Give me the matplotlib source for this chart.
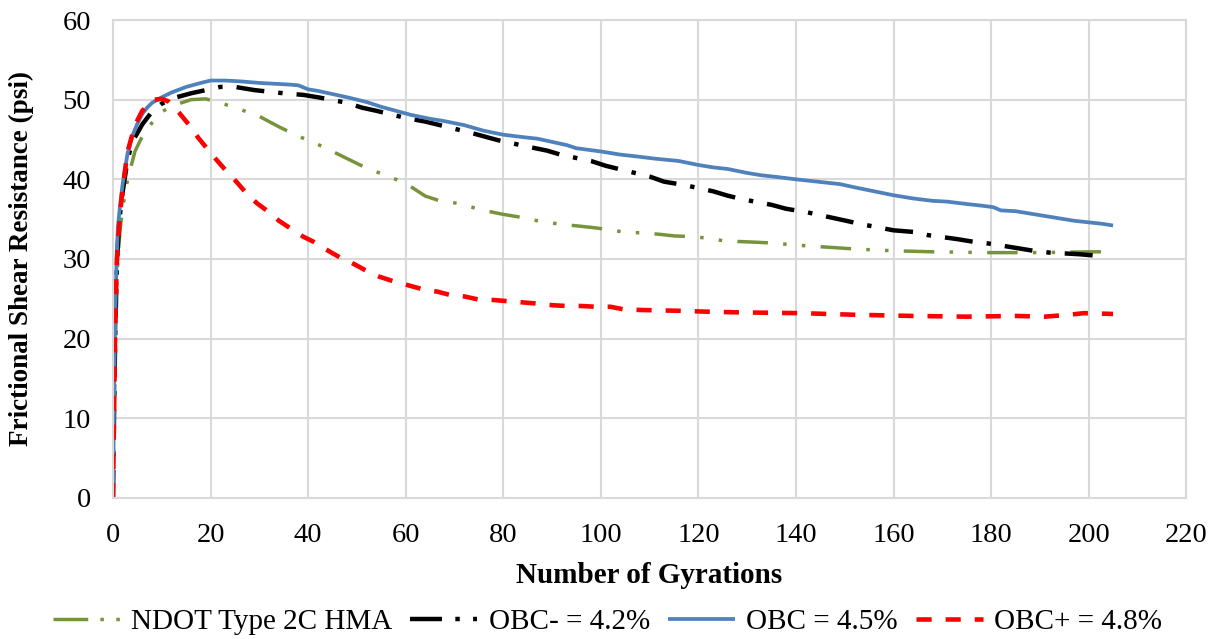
import matplotlib
matplotlib.use("Agg")
import matplotlib.pyplot as plt

# gyration counts and frictional shear resistance (psi) per mix
ndot_x = [0, 0.25, 0.5, 0.75, 1, 1.5, 2, 3, 4.5, 6, 8, 10, 13, 16, 19, 22.5, 26, 30, 34, 38,
          40.5, 43, 46, 49, 52, 55.5, 58, 61, 64, 67, 70.5, 73, 76, 80, 83, 86, 89, 92, 96, 99,
          102.5, 104.5, 106, 108.5, 112, 115, 119, 122, 125, 128, 132, 135, 141, 146, 151, 157,
          162, 168, 174, 179, 184, 190, 195, 200, 205]
ndot_y = [0, 10, 19, 26, 30, 34, 36.5, 40, 43.5, 45.4, 47.1, 48.5, 49.4, 50.0, 50.1, 49.5, 48.8,
          47.9, 46.6, 45.4, 44.8, 44.1, 43.2, 42.3, 41.4, 40.6, 40.0, 39.1, 37.9, 37.3, 37.0, 36.6,
          36.1, 35.6, 35.3, 34.9, 34.6, 34.35, 34.1, 33.9, 33.6, 33.4, 33.3, 33.3, 33.1, 32.9, 32.8,
          32.6, 32.3, 32.2, 32.1, 32.0, 31.7, 31.5, 31.3, 31.1, 31.0, 30.9, 30.85, 30.8, 30.8, 30.8,
          30.85, 30.9, 30.9]

obc_lo_x = [0, 0.25, 0.5, 0.75, 1, 1.5, 2, 3, 4, 5, 6, 8, 10, 13, 16, 19, 22, 25, 29, 35, 39, 42,
            48, 51, 54, 60, 64, 67, 73, 76, 79, 85, 89, 92, 98, 101, 104, 110, 113, 117, 123, 126,
            129, 135, 138, 142, 148, 151, 154, 160, 164, 167, 173, 176, 180, 186, 189, 192, 198, 202]
obc_lo_y = [0, 12, 22, 28, 32, 36, 38.5, 42.5, 44.8, 45.8, 46.9, 48.5, 49.5, 50.3, 50.8, 51.2,
            51.6, 51.6, 51.2, 50.8, 50.6, 50.3, 49.6, 49.0, 48.6, 47.7, 47.25, 46.8, 45.9, 45.4,
            44.9, 44.1, 43.6, 43.05, 42.3, 41.7, 41.25, 40.35, 39.7, 39.3, 38.5, 37.95, 37.5, 36.8,
            36.3, 35.9, 35.1, 34.7, 34.3, 33.6, 33.4, 33.0, 32.5, 32.2, 31.9, 31.3, 31.0, 30.8,
            30.6, 30.4]

obc_x = [0, 0.25, 0.5, 0.75, 1, 1.5, 2, 3, 4, 5, 6, 7, 8, 10, 12, 15, 18, 20, 23, 26, 30, 33, 36,
         38, 40, 42, 45, 48, 52, 55, 58, 61, 65, 68, 72, 76, 80, 84, 87, 90, 93, 95, 100, 104, 107,
         111, 116, 120, 123, 126, 130, 133, 136, 140, 143, 146, 149, 152, 156, 160, 164, 168, 171,
         175, 178, 180.5, 182, 185, 189, 193, 197, 200, 203, 205]
obc_y = [0, 14, 24, 30, 34, 37, 39.5, 43.3, 45.5, 47, 48.2, 49, 49.6, 50.3, 50.9, 51.6, 52.1,
         52.4, 52.4, 52.3, 52.1, 52.0, 51.9, 51.8, 51.3, 51.1, 50.7, 50.3, 49.7, 49.1, 48.6, 48.1,
         47.6, 47.3, 46.8, 46.1, 45.6, 45.3, 45.1, 44.7, 44.3, 43.9, 43.5, 43.1, 42.9, 42.6, 42.3,
         41.8, 41.5, 41.3, 40.8, 40.5, 40.3, 40.0, 39.8, 39.6, 39.4, 39.0, 38.5, 38.0, 37.6, 37.3,
         37.2, 36.9, 36.7, 36.5, 36.1, 36.0, 35.6, 35.2, 34.8, 34.6, 34.4, 34.2]

obc_hi_x = [0, 0.25, 0.5, 0.75, 1, 1.5, 2, 3, 4.5, 6, 7.5, 8.5, 10, 11.3, 13.5, 15.5, 17.5, 19.5,
            21, 23, 25, 27, 29.5, 31.5, 34, 36.5, 39, 41, 44.5, 46.5, 49, 52, 54.5, 57.5, 60.5,
            63.5, 66.5, 69, 72, 75, 78, 81, 84, 87, 90, 93, 96, 99, 102, 104.5, 108, 116, 121, 128,
            141, 152, 164, 175, 185, 191, 196, 199, 205]
obc_hi_y = [0, 13, 23, 29, 32, 36, 39, 43.5, 46.8, 48.6, 49.5, 50.0, 50.1, 49.8, 48.4, 46.9,
            45.2, 43.7, 42.6, 41.2, 39.9, 38.5, 37.0, 36.1, 34.8, 33.8, 32.8, 32.2, 30.9, 30.2,
            29.5, 28.5, 27.8, 27.2, 26.7, 26.2, 25.9, 25.5, 25.3, 24.9, 24.85, 24.7, 24.55, 24.4,
            24.2, 24.1, 24.1, 24.0, 24.0, 23.7, 23.6, 23.5, 23.4, 23.3, 23.2, 23.0, 22.85, 22.76,
            22.85, 22.76, 23.0, 23.2, 23.1]

labels = ["NDOT Type 2C HMA", "OBC- = 4.2%", "OBC = 4.5%", "OBC+ = 4.8%"]

plt.rcParams["font.family"] = ["Liberation Serif", "DejaVu Serif"]

fig = plt.figure(figsize=(12.15, 6.39), dpi=100)
ax = fig.add_axes([0.093, 0.2207, 0.8833, 0.748])

grid_col = "#D9D9D9"

ax.plot(ndot_x, ndot_y, color="#77933C", lw=2.5, dashes=(8.8, 4.4, 1, 4.4, 1, 4.4),
        dash_capstyle="butt", label=labels[0])
ax.plot(obc_lo_x, obc_lo_y, color="black", lw=3.2, dashes=(6.3, 3.15, 1.0, 3.15),
        dash_capstyle="butt", label=labels[1])
ax.plot(obc_x, obc_y, color="#4F81BD", lw=2.7, solid_capstyle="butt", label=labels[2])
ax.plot(obc_hi_x, obc_hi_y, color="#FF0000", lw=3.3, dashes=(3.3, 3.05),
        dash_capstyle="butt", label=labels[3])

ax.set_xlim(0, 220)
ax.set_ylim(0, 60)
ax.set_xticks(range(0, 221, 20))
ax.set_yticks(range(0, 61, 10))
ax.grid(True, color=grid_col, lw=1.5)
ax.set_axisbelow(True)
for s in ax.spines.values():
    s.set_color(grid_col)
    s.set_linewidth(1.5)
ax.tick_params(length=0, labelsize=20.5)
ax.tick_params(axis="x", pad=18)
ax.tick_params(axis="y", pad=16)

ax.set_xlabel("Number of Gyrations", fontsize=21, fontweight="bold")
ax.set_ylabel("Frictional Shear Resistance (psi)", fontsize=19.5, fontweight="bold")
ax.xaxis.set_label_coords(0.5, -0.135)
ax.yaxis.set_label_coords(-0.074, 0.5)

leg = fig.legend(loc="center", bbox_to_anchor=(0.5, 0.027), ncol=4, frameon=False,
                 fontsize=21, handlelength=2.3, columnspacing=0.6, handletextpad=0.4)
# shorter patterns so the whole dash-dot sequence fits in the legend swatch
leg_lines = leg.get_lines()
leg_lines[0].set_dashes((10, 3.5, 1, 3.6, 1, 3.6))
leg_lines[1].set_dashes((7.2, 3.0, 1, 3.0))

fig.savefig("out.png", dpi=100)
